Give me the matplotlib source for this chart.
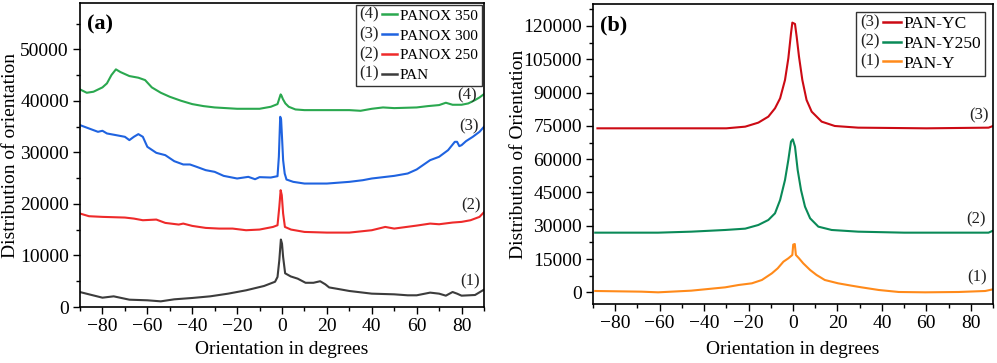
import matplotlib
matplotlib.use("Agg")
import matplotlib.pyplot as plt
from matplotlib.legend_handler import HandlerBase
from matplotlib.lines import Line2D
from matplotlib.text import Text
from matplotlib.ticker import MultipleLocator

plt.rcParams['font.family'] = ['Liberation Serif', 'DejaVu Serif']

# ---------------- Panel (a) data ----------------
panox350_x = [-90, -87, -84, -80, -78, -76, -74, -72, -68, -64, -61, -58, -54, -50, -45, -40, -35, -30, -20, -10,
              -5, -2, -1.2, -0.6, -0.2, 0.4, 1.5, 3, 6, 10, 20, 30, 35, 40, 45, 50, 60, 65, 70, 73, 76, 80, 83, 86, 88, 90]
panox350_y = [42230, 41580, 41780, 42620, 43400, 45010, 46120, 45600, 44820, 44500, 44040, 42620, 41580, 40800,
              40030, 39380, 38990, 38730, 38470, 38470, 38860, 39380, 40480, 41260, 41000, 40350, 39510, 38860,
              38340, 38210, 38210, 38210, 38080, 38470, 38730, 38600, 38730, 38990, 39190, 39640, 39250, 39250,
              39510, 40160, 40670, 41320]

panox300_x = [-90, -86, -82, -80, -78, -74, -70, -68, -66, -64, -62, -60, -56, -52, -48, -44, -41, -38, -34, -30,
              -26, -20, -15, -12, -10, -5, -2, -1.4, -0.8, -0.4, 0, 0.5, 1.2, 2, 5, 10, 20, 30, 36, 40, 50, 56, 60,
              66, 70, 74, 77, 78, 79, 80, 82, 85, 88, 90]
panox300_y = [35300, 34650, 34000, 34200, 33680, 33360, 33030, 32390, 33030, 33550, 33030, 31090, 29920, 29470,
              28300, 27660, 27660, 27200, 26560, 26230, 25450, 24940, 25260, 24800, 25200, 25130, 25390, 29150,
              36920, 36400, 33000, 28500, 25910, 24740, 24290, 23960, 23960, 24290, 24610, 24940, 25450, 25910,
              26690, 28500, 29150, 30440, 32060, 32060, 31220, 31410, 32190, 33030, 34000, 34980]

panox250_x = [-90, -86, -80, -70, -66, -62, -56, -52, -46, -44, -40, -34, -28, -22, -16, -10, -4, -2, -1.2, -0.6,
              -0.1, 0.5, 1.3, 4, 10, 20, 30, 40, 46, 50, 60, 66, 70, 76, 80, 84, 88, 90]
panox250_y = [18140, 17620, 17490, 17360, 17160, 16840, 16970, 16320, 16000, 16190, 15740, 15350, 15220, 15220,
              14900, 15030, 15540, 15870, 19430, 22670, 21700, 18140, 15540, 15030, 14570, 14440, 14440, 14900,
              15540, 15220, 15800, 16190, 16060, 16390, 16520, 16840, 17490, 18400]

pan_x = [-90, -86, -80, -75, -68, -60, -54, -48, -40, -32, -24, -16, -8, -3.1, -2, -1.2, -0.5, 0, 0.5, 1.4, 3.9,
         7, 10.5, 14, 17, 19.3, 21, 25, 30, 40, 50, 56, 60, 66, 70, 73, 76, 78, 80, 86, 90]
pan_y = [2900, 2460, 1810, 2070, 1420, 1300, 1100, 1490, 1750, 2070, 2590, 3240, 4080, 4900, 5830, 9070, 13100,
         12300, 9700, 6540, 5930, 5500, 4700, 4700, 5000, 4400, 3800, 3500, 3110, 2590, 2460, 2270, 2270, 2790,
         2590, 2200, 2910, 2590, 2200, 2330, 3370]

# ---------------- Panel (b) data ----------------
panyc_x = [-88, -30, -21.5, -15.6, -11.1, -8.1, -5.8, -3.6, -2.1, -0.9, -0.3, 0.9, 1.65, 2.7, 4.2, 6.1, 8.4,
           12.9, 18.8, 29.3, 60, 88, 90]
panyc_y = [73890, 73890, 74640, 76450, 79150, 82900, 87410, 95670, 105430, 116700, 121500, 120900, 115190,
           106180, 95670, 86660, 81400, 76900, 74940, 74190, 73890, 74190, 74940]

pany250_x = [-89, -60.7, -45.8, -30.5, -21.5, -15.6, -11.1, -8.1, -5.8, -3.6, -2.1, -0.9, -0.1, 0.9, 2.1, 3.6,
             5.4, 7.7, 11.4, 17.4, 29.3, 50, 88, 90]
pany250_y = [26880, 26880, 27330, 28090, 28690, 30340, 32590, 35600, 41600, 50610, 59630, 67890, 68940, 65630,
             55120, 46110, 38600, 33340, 29590, 28090, 27330, 26880, 26880, 27780]

pany_x = [-89, -68.2, -60.7, -45.8, -30.5, -24.5, -18.5, -14, -9.5, -6.9, -4.3, -2.1, -0.3, 0.1, 0.8, 1.3, 2.7,
          4.6, 7.7, 10.6, 14.3, 20.3, 26.3, 30.8, 38.6, 47.6, 59.5, 74.5, 86.5, 90]
pany_y = [600, 300, 0, 750, 2250, 3300, 4060, 5560, 8560, 10800, 13820, 15320, 16820, 21500, 21780, 16820, 15320,
          13070, 10060, 7810, 5560, 4060, 3000, 2250, 1050, 150, 0, 150, 600, 1350]

labels_a = ['PANOX 350', 'PANOX 300', 'PANOX 250', 'PAN']
nums_a = ['(4)', '(3)', '(2)', '(1)']
labels_b = ['PAN-YC', 'PAN-Y250', 'PAN-Y']
nums_b = ['(3)', '(2)', '(1)']

colors_a = ['#2aa84f', '#1f63e0', '#ee2a2a', '#3c3c3c']
colors_b = ['#cc0a14', '#0a8a58', '#ff8a1a']


class NumHandler(HandlerBase):
    def __init__(self, num, fontsize, frac):
        super().__init__()
        self.num = num
        self.fs = fontsize
        self.frac = frac

    def create_artists(self, legend, orig_handle, xdescent, ydescent, width, height, fontsize, trans):
        t = Text(-xdescent, -ydescent + height / 2.0, self.num, fontsize=self.fs,
                 va='center', ha='left', color='#222222', transform=trans)
        x0 = -xdescent + self.frac * width
        ln = Line2D([x0, -xdescent + width], [height / 2.0, height / 2.0],
                    color=orig_handle.get_color(), lw=1.8, transform=trans)
        return [t, ln]


fig = plt.figure(figsize=(9.97, 3.63), dpi=100)
W, H = 997.0, 363.0
axa = fig.add_axes([80 / W, (H - 307) / H, 404 / W, 304 / H])
axb = fig.add_axes([593 / W, (H - 304) / H, 400 / W, 300 / H])

series_a = [(panox350_x, panox350_y), (panox300_x, panox300_y), (panox250_x, panox250_y), (pan_x, pan_y)]
lines_a = []
for (xs, ys), c, lab in zip(series_a, colors_a, labels_a):
    l, = axa.plot(xs, ys, color=c, lw=1.5, label=lab)
    lines_a.append(l)

series_b = [(panyc_x, panyc_y), (pany250_x, pany250_y), (pany_x, pany_y)]
lines_b = []
for (xs, ys), c, lab in zip(series_b, colors_b, labels_b):
    l, = axb.plot(xs, ys, color=c, lw=1.5, label=lab)
    lines_b.append(l)

for ax in (axa, axb):
    ax.set_xlim(-90, 90)
    ax.xaxis.set_major_locator(MultipleLocator(20))
    ax.xaxis.set_minor_locator(MultipleLocator(10))
    ax.tick_params(which='major', direction='out', length=5, width=1, labelsize=14, pad=3,
                   top=False, right=False)
    ax.tick_params(which='minor', direction='out', length=3, width=1, top=False, right=False)
    for s in ax.spines.values():
        s.set_linewidth(1.2)
    ax.set_xlabel('Orientation in degrees', fontsize=14)

axa.set_ylim(0, 59000)
axa.yaxis.set_major_locator(MultipleLocator(10000))
axa.yaxis.set_minor_locator(MultipleLocator(5000))
axa.set_ylabel('Distribution of orientation', fontsize=14)
axa.yaxis.set_label_coords(-0.171, 0.5)
axa.xaxis.set_label_coords(0.5, -0.14)
axa.xaxis.label.set_va('center')
axa.yaxis.label.set_va('center')

axb.set_ylim(-5260, 129900)
axb.yaxis.set_major_locator(MultipleLocator(15000))
axb.yaxis.set_minor_locator(MultipleLocator(7500))
axb.set_ylabel('Distribution of Orientation', fontsize=14)
axb.yaxis.set_label_coords(-0.1875, 0.5)
axb.xaxis.set_label_coords(0.5, -0.153)
axb.xaxis.label.set_va('center')
axb.yaxis.label.set_va('center')

axa.text(0.017, 0.93, '(a)', transform=axa.transAxes, fontsize=16, fontweight='bold', va='center', ha='left')
axb.text(0.017, 0.93, '(b)', transform=axb.transAxes, fontsize=16, fontweight='bold', va='center', ha='left')

# curve labels
lab_pos_a = [(82.3, 41000), (83.2, 35100), (84.0, 19800), (84.0, 4900)]
for (x, y), n in zip(lab_pos_a, nums_a):
    axa.text(x, y, n, fontsize=12, ha='center', va='center', color='#222222')
lab_pos_b = [(83.7, 79600), (82.5, 33000), (83.0, 6600)]
for (x, y), n in zip(lab_pos_b, nums_b):
    axb.text(x, y, n, fontsize=12, ha='center', va='center', color='#222222')

lega = axa.legend(handles=lines_a, handler_map={l: NumHandler(n, 12, 0.6) for l, n in zip(lines_a, nums_a)},
                  loc='upper right', bbox_to_anchor=(1.0, 1.0), borderaxespad=0.15, fontsize=11,
                  handlelength=2.45, handletextpad=0.2, labelspacing=0.4, borderpad=0.25,
                  fancybox=False, framealpha=1, edgecolor='#333333')
lega.get_frame().set_linewidth(1.0)

legb = axb.legend(handles=lines_b, handler_map={l: NumHandler(n, 12, 0.55) for l, n in zip(lines_b, nums_b)},
                  loc='upper right', bbox_to_anchor=(1.0, 1.0), borderaxespad=0.45, fontsize=12.5,
                  handlelength=2.3, handletextpad=0.15, labelspacing=0.2, borderpad=0.25,
                  fancybox=False, framealpha=1, edgecolor='#333333')
legb.get_frame().set_linewidth(1.0)

fig.savefig('out.png', dpi=100)
